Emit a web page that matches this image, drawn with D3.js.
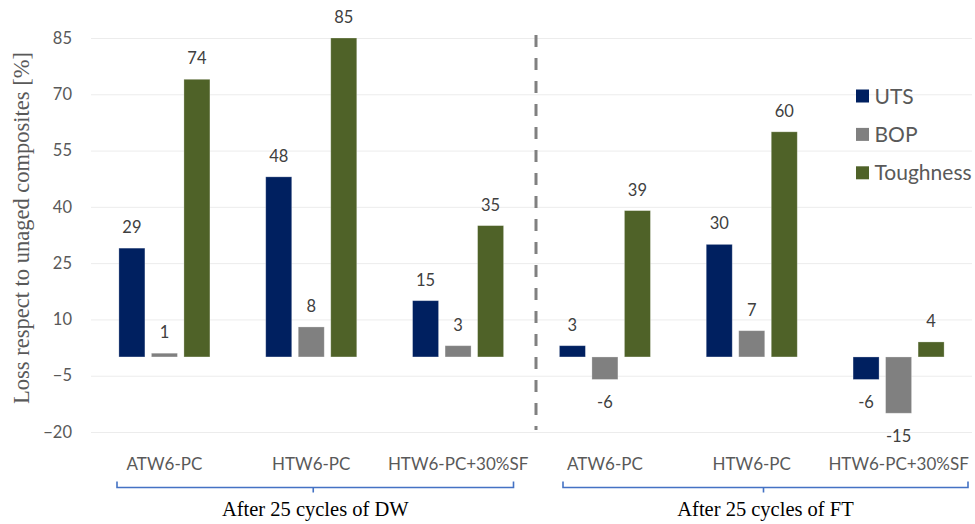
<!DOCTYPE html>
<html>
<head>
<meta charset="utf-8">
<script src="https://cdn.jsdelivr.net/npm/d3@7"></script>
<style>
  html, body { margin: 0; padding: 0; background: #fff; }
  svg { display: block; }
</style>
</head>
<body>
<svg id="chart" width="975" height="524"></svg>
<script>
// Loss of properties after ageing, per composite and ageing condition
const categories = ["ATW6-PC", "HTW6-PC", "HTW6-PC+30%SF", "ATW6-PC", "HTW6-PC", "HTW6-PC+30%SF"];
const seriesNames = ["UTS", "BOP", "Toughness"];
const utsValues = [29, 48, 15, 3, 30, -6];
const bopValues = [1, 8, 3, -6, 7, -15];
const toughnessValues = [74, 85, 35, 39, 60, 4];
const conditions = ["After 25 cycles of DW", "After 25 cycles of FT"];
const conditionGroups = [[0, 2], [3, 5]];
const yTicks = [-20, -5, 10, 25, 40, 55, 70, 85];
const yTitle = "Loss respect to unaged composites [%]";

const colors = { UTS: "#002060", BOP: "#808080", Toughness: "#4F6228" };
const seriesValues = { UTS: utsValues, BOP: bopValues, Toughness: toughnessValues };

const svg = d3.select("#chart");
const plot = { left: 91, right: 972, top: 38, bottom: 432 };
const sansFont = "Lato, 'Open Sans', sans-serif";
const serifFont = "'Liberation Serif', 'Times New Roman', serif";

const x0 = d3.scaleBand()
  .domain(d3.range(categories.length))
  .range([plot.left, plot.right])
  .paddingInner(0).paddingOuter(0);

const bw = x0.bandwidth();
const x1 = d3.scaleBand()
  .domain(seriesNames)
  .range([bw * 0.19, bw * 0.81])
  .paddingInner(0.2).paddingOuter(0);

const y = d3.scaleLinear().domain([-20, 85]).range([plot.bottom, plot.top]);

// Gridlines + tick labels through a left axis
const yAxis = d3.axisLeft(y).tickValues(yTicks).tickSize(-(plot.right - plot.left)).tickPadding(19);
const gy = svg.append("g").attr("transform", `translate(${plot.left},0)`).call(yAxis);
gy.select(".domain").remove();
gy.selectAll(".tick line").attr("stroke", "#ececec").attr("stroke-width", 1);
gy.selectAll(".tick text")
  .attr("fill", "#595959")
  .style("font-family", sansFont)
  .style("font-size", "16.5px");

// Bars
const flat = [];
categories.forEach((c, i) => {
  seriesNames.forEach(s => flat.push({ i, s, v: seriesValues[s][i] }));
});

const bars = svg.append("g");
bars.selectAll("rect")
  .data(flat)
  .join("rect")
  .attr("x", d => x0(d.i) + x1(d.s))
  .attr("width", x1.bandwidth())
  .attr("y", d => y(Math.max(0, d.v)))
  .attr("height", d => Math.abs(y(d.v) - y(0)))
  .attr("fill", d => colors[d.s])
  .attr("stroke", "#ffffff")
  .attr("stroke-opacity", 0.35)
  .attr("stroke-width", 0.8);

// Value labels
svg.append("g").selectAll("text")
  .data(flat)
  .join("text")
  .attr("x", d => x0(d.i) + x1(d.s) + x1.bandwidth() / 2)
  .attr("y", d => d.v >= 0 ? y(d.v) - 15 : y(d.v) + 29)
  .attr("text-anchor", "middle")
  .attr("fill", "#404040")
  .style("font-family", sansFont)
  .style("font-size", "16.5px")
  .text(d => d.v);

// Category labels
svg.append("g").selectAll("text")
  .data(categories)
  .join("text")
  .attr("x", (d, i) => x0(i) + bw / 2)
  .attr("y", 470)
  .attr("text-anchor", "middle")
  .attr("fill", "#595959")
  .style("font-family", sansFont)
  .style("font-size", "17px")
  .text(d => d);

// Dashed separator between ageing conditions
const sepX = x0(3) + 4.5;
svg.append("line")
  .attr("x1", sepX).attr("x2", sepX)
  .attr("y1", 35).attr("y2", 430)
  .attr("stroke", "#808080")
  .attr("stroke-width", 3)
  .attr("stroke-dasharray", "12 11");

// Brackets and condition titles
const braceSpans = [
  [x0(conditionGroups[0][0]) + 26, x0(conditionGroups[0][1]) + bw - 18],
  [x0(conditionGroups[1][0]) + 31.5, x0(conditionGroups[1][1]) + bw - 4]
];
const braceY = 487.5;
const braces = svg.append("g").attr("fill", "none").attr("stroke", "#4472C4").attr("stroke-width", 1.6);
braceSpans.forEach(([a, b], k) => {
  const mid = (a + b) / 2 - 2;
  braces.append("path")
    .attr("d", `M${a},${braceY - 6} V${braceY} H${b} V${braceY - 6} M${mid},${braceY} V${braceY + 5}`);
  svg.append("text")
    .attr("x", mid + 2)
    .attr("y", 516)
    .attr("text-anchor", "middle")
    .attr("fill", "#000")
    .style("font-family", serifFont)
    .style("font-size", "20.5px")
    .text(conditions[k]);
});

// Y axis title
svg.append("text")
  .attr("transform", `translate(29,228) rotate(-90)`)
  .attr("text-anchor", "middle")
  .attr("fill", "#595959")
  .style("font-family", serifFont)
  .style("font-size", "22.5px")
  .text(yTitle);

// Legend
const legend = svg.append("g").attr("transform", "translate(856,96)");
seriesNames.forEach((s, k) => {
  const g = legend.append("g").attr("transform", `translate(0,${k * 38.4})`);
  g.append("rect").attr("x", 0).attr("y", -6.5).attr("width", 13).attr("height", 13).attr("fill", colors[s]);
  g.append("text")
    .attr("x", 18.5)
    .attr("y", 0)
    .attr("dy", "0.36em")
    .attr("fill", "#595959")
    .style("font-family", sansFont)
    .style("font-size", "21px")
    .text(s);
});
</script>
</body>
</html>
